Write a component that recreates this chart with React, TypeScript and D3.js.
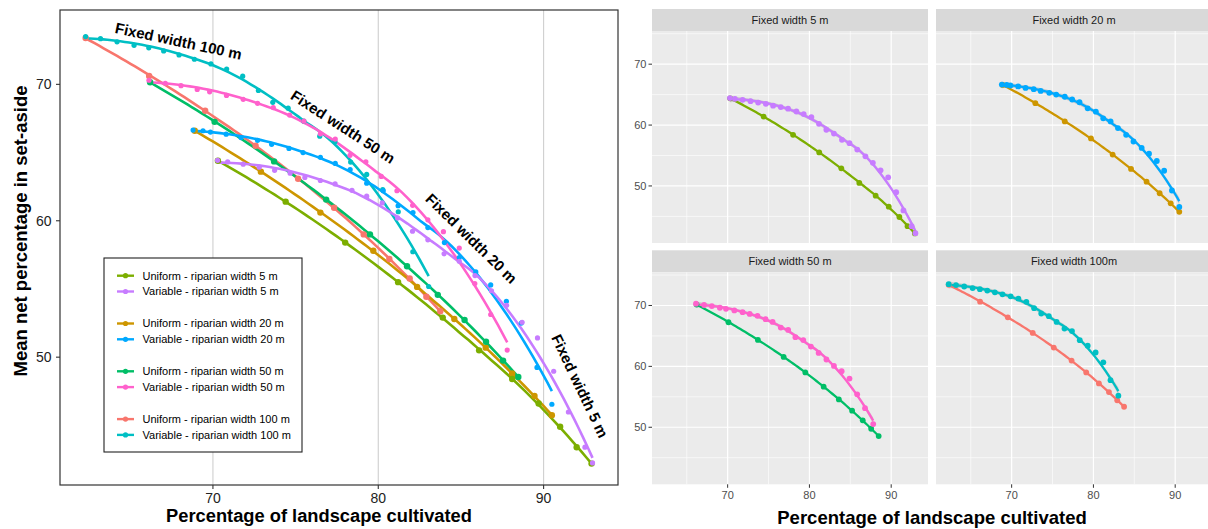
import React from 'react';
import * as d3 from 'd3';

// ---------- data ----------
const uniform5X = [70.3, 74.4, 78.0, 81.2, 83.9, 86.1, 88.1, 89.7, 91.0, 92.0, 92.9];
const uniform5Y = [64.4, 61.4, 58.4, 55.5, 52.9, 50.5, 48.4, 46.6, 44.9, 43.4, 42.2];

const variable5X = [70.28, 70.89, 71.83, 72.8, 73.73, 74.67, 75.56, 76.5, 77.39, 78.41, 79.3, 80.24, 81.17, 82.07, 83.0, 83.98, 84.9, 85.85, 86.85, 87.76, 88.7, 89.63, 90.61, 91.5, 92.5, 92.96];
const variable5Y = [64.43, 64.31, 64.15, 63.93, 63.7, 63.49, 63.18, 62.95, 62.7, 62.23, 61.8, 61.31, 60.21, 59.23, 58.6, 57.58, 57.03, 55.98, 54.87, 53.8, 52.56, 51.41, 48.97, 45.98, 43.4, 42.25];

const uniform20X = [68.9, 72.9, 76.5, 79.7, 82.35, 84.6, 86.5, 88.1, 89.45, 90.5];
const uniform20Y = [66.6, 63.6, 60.6, 57.8, 55.15, 52.8, 50.7, 48.8, 47.15, 45.75];

const variable20X = [68.8, 69.4, 69.85, 70.8, 71.7, 72.7, 73.55, 74.6, 75.45, 76.5, 77.4, 78.3, 79.3, 80.3, 81.2, 82.1, 83.0, 84.0, 84.9, 85.9, 86.8, 87.75, 88.65, 89.6, 90.5];
const variable20Y = [66.65, 66.6, 66.5, 66.35, 66.1, 65.9, 65.6, 65.3, 65.0, 64.65, 64.2, 63.75, 62.75, 62.2, 61.1, 60.6, 59.5, 58.4, 57.3, 56.25, 55.3, 54.1, 52.5, 49.25, 46.55];

const uniform50X = [66.2, 70.1, 73.7, 76.85, 79.5, 81.74, 83.6, 85.22, 86.52, 87.55, 88.47];
const uniform50Y = [70.15, 67.25, 64.35, 61.55, 59.0, 56.67, 54.57, 52.72, 51.13, 49.75, 48.55];

const variable50X = [66.13, 67.12, 68.07, 69.05, 69.8, 70.82, 71.83, 72.7, 73.65, 74.64, 75.5, 76.5, 77.4, 78.29, 79.25, 80.18, 81.13, 82.08, 83.0, 83.94, 84.9, 85.84, 86.8, 87.8];
const variable50Y = [70.3, 70.08, 69.9, 69.63, 69.45, 69.19, 68.9, 68.61, 68.3, 67.75, 67.3, 66.37, 65.99, 64.8, 64.32, 63.25, 62.2, 61.13, 60.07, 59.2, 58.0, 55.4, 53.13, 50.52];

const uniform100X = [62.3, 66.14, 69.53, 72.58, 75.15, 77.33, 79.12, 80.67, 81.9, 82.91, 83.75];
const uniform100Y = [73.4, 70.62, 68.06, 65.5, 63.08, 60.95, 59.0, 57.2, 55.77, 54.43, 53.37];

const variable100X = [62.3, 63.2, 64.2, 65.23, 66.12, 67.02, 67.95, 68.88, 69.88, 70.83, 71.8, 72.75, 73.62, 74.55, 75.5, 76.46, 77.38, 78.33, 79.3, 80.27, 81.21, 82.09, 83.05];
const variable100Y = [73.5, 73.35, 73.12, 72.86, 72.68, 72.45, 72.16, 71.84, 71.5, 71.12, 70.6, 69.55, 68.68, 68.25, 67.3, 66.2, 65.8, 64.3, 63.4, 62.28, 60.66, 57.73, 55.18];

const xTicks = [70, 80, 90];
const yTicks = [50, 60, 70];
const xMinor = [65, 75, 85];
const yMinor = [45, 55, 65, 75];

const facetTitles = ['Fixed width 5 m', 'Fixed width 20 m', 'Fixed width 50 m', 'Fixed width 100m'];
const annotations = ['Fixed width 100 m', 'Fixed width 50 m', 'Fixed width 20 m', 'Fixed width 5 m'];

// series in factor order (drawing order)
const series = [
  { key: 'U100', label: 'Uniform - riparian width 100 m', color: '#F8766D', xs: uniform100X, ys: uniform100Y, uniform: true },
  { key: 'U20', label: 'Uniform - riparian width 20 m', color: '#CD9600', xs: uniform20X, ys: uniform20Y, uniform: true },
  { key: 'U5', label: 'Uniform - riparian width 5 m', color: '#7CAE00', xs: uniform5X, ys: uniform5Y, uniform: true },
  { key: 'U50', label: 'Uniform - riparian width 50 m', color: '#00BE67', xs: uniform50X, ys: uniform50Y, uniform: true },
  { key: 'V100', label: 'Variable - riparian width 100 m', color: '#00BFC4', xs: variable100X, ys: variable100Y, uniform: false },
  { key: 'V20', label: 'Variable - riparian width 20 m', color: '#00A9FF', xs: variable20X, ys: variable20Y, uniform: false },
  { key: 'V5', label: 'Variable - riparian width 5 m', color: '#C77CFF', xs: variable5X, ys: variable5Y, uniform: false },
  { key: 'V50', label: 'Variable - riparian width 50 m', color: '#FF61CC', xs: variable50X, ys: variable50Y, uniform: false },
];
const legendOrder = [['U5', 'V5'], ['U20', 'V20'], ['U50', 'V50'], ['U100', 'V100']];
const facetSeries = [['U5', 'V5'], ['U20', 'V20'], ['U50', 'V50'], ['U100', 'V100']];

// ---------- loess ----------
function solve3(M: number[][], b: number[]): number[] {
  const A = M.map((r, i) => [...r, b[i]]);
  for (let c = 0; c < 3; c++) {
    let p = c;
    for (let r = c + 1; r < 3; r++) if (Math.abs(A[r][c]) > Math.abs(A[p][c])) p = r;
    const tmp = A[c]; A[c] = A[p]; A[p] = tmp;
    for (let r = 0; r < 3; r++) {
      if (r === c) continue;
      const f = A[r][c] / A[c][c];
      for (let k = c; k < 4; k++) A[r][k] -= f * A[c][k];
    }
  }
  return [A[0][3] / A[0][0], A[1][3] / A[1][1], A[2][3] / A[2][2]];
}

function loessRow(xs: number[], x0: number, span = 0.75): number[] {
  const n = xs.length;
  const q = Math.floor(n * span);
  const d = xs.map((x) => Math.abs(x - x0)).sort((a, b) => a - b);
  const h = Math.max(d[q - 1], 1e-9) * 1.001;
  const w = xs.map((x) => {
    const r = Math.abs(x - x0) / h;
    return r < 1 ? Math.pow(1 - r * r * r, 3) : 0;
  });
  let s0 = 0, s1 = 0, s2 = 0, s3 = 0, s4 = 0;
  xs.forEach((x, j) => {
    const u = x - x0;
    s0 += w[j]; s1 += w[j] * u; s2 += w[j] * u * u; s3 += w[j] * u * u * u; s4 += w[j] * u * u * u * u;
  });
  const a = solve3([[s0, s1, s2], [s1, s2, s3], [s2, s3, s4]], [1, 0, 0]);
  return xs.map((x, j) => {
    const u = x - x0;
    return w[j] * (a[0] + a[1] * u + a[2] * u * u);
  });
}

function fitLoess(xs: number[], ys: number[]) {
  const n = xs.length;
  const L = xs.map((x0) => loessRow(xs, x0));
  const yhat = L.map((r) => r.reduce((s, l, j) => s + l * ys[j], 0));
  const IL = L.map((r, i) => r.map((l, j) => (i === j ? 1 : 0) - l));
  const A: number[][] = [];
  for (let i = 0; i < n; i++) {
    A.push([]);
    for (let j = 0; j < n; j++) {
      let s = 0;
      for (let k = 0; k < n; k++) s += IL[k][i] * IL[k][j];
      A[i].push(s);
    }
  }
  let delta1 = 0, delta2 = 0;
  for (let i = 0; i < n; i++) {
    delta1 += A[i][i];
    for (let j = 0; j < n; j++) delta2 += A[i][j] * A[j][i];
  }
  const rss = ys.reduce((s, y, i) => s + (y - yhat[i]) ** 2, 0);
  const sigma = Math.sqrt(rss / delta1);
  const df = (delta1 * delta1) / delta2;
  const t = 1.96 + 2.4 / df + 2.5 / (df * df);
  const [xmin, xmax] = d3.extent(xs) as [number, number];
  const grid = d3.range(80).map((i) => xmin + ((xmax - xmin) * i) / 79);
  return grid.map((x0) => {
    const r = loessRow(xs, x0);
    const y = r.reduce((s, l, j) => s + l * ys[j], 0);
    const se = sigma * Math.sqrt(r.reduce((s, l) => s + l * l, 0));
    return { x: x0, y, lo: y - t * se, hi: y + t * se };
  });
}

const fits: Record<string, ReturnType<typeof fitLoess>> = {};
series.forEach((s) => { fits[s.key] = fitLoess(s.xs, s.ys); });
const byKey: Record<string, typeof series[0]> = {};
series.forEach((s) => { byKey[s.key] = s; });

const FONT = "'Liberation Sans', Arial, Helvetica, sans-serif";
const X_DOMAIN = [60.75, 94.5];
const Y_DOMAIN = [40.63, 75.45];

function LeftPlot() {
  const x = d3.scaleLinear().domain(X_DOMAIN).range([60, 618]);
  const y = d3.scaleLinear().domain(Y_DOMAIN).range([485, 10]);
  const line = d3.line<{ x: number; y: number }>().x((d) => x(d.x)).y((d) => y(d.y)).curve(d3.curveLinear);
  const annPos = [
    { cx: 178.5, cy: 41, rot: 12 },
    { cx: 343, cy: 126.7, rot: 33 },
    { cx: 471.5, cy: 238.5, rot: 44.5 },
    { cx: 580, cy: 386, rot: 64.5 },
  ];
  return (
    <g>
      <rect x={60} y={10} width={558} height={475} fill="#fff" />
      {xTicks.map((t) => (
        <line key={t} x1={x(t)} x2={x(t)} y1={10} y2={485} stroke="#CFCFCF" strokeWidth={1.1} />
      ))}
      {series.map((s) => (
        <path key={s.key} d={line(fits[s.key]) || ''} fill="none" stroke={s.color} strokeWidth={2.6} />
      ))}
      {series.map((s) =>
        s.xs.map((v, i) => (
          <circle key={s.key + i} cx={x(v)} cy={y(s.ys[i])} r={s.uniform ? 3.2 : 2.6} fill={s.color} />
        ))
      )}
      {annotations.map((a, i) => (
        <g key={a} transform={`translate(${annPos[i].cx},${annPos[i].cy}) rotate(${annPos[i].rot})`}>
          <text x={0} y={0} dy="0.36em" textAnchor="middle" fontFamily={FONT} fontWeight="bold" fontSize={15} fill="#000">
            {a}
          </text>
        </g>
      ))}
      {/* legend */}
      <rect x={104} y={258} width={198} height={194} fill="#fff" stroke="#222" strokeWidth={1.1} />
      {legendOrder.map((grp, g) =>
        grp.map((k, j) => {
          const s = byKey[k];
          const ly = 275.7 + g * 47.8 + j * 15.8;
          return (
            <g key={k}>
              <line x1={117} x2={134} y1={ly} y2={ly} stroke={s.color} strokeWidth={2.4} />
              <circle cx={125.5} cy={ly} r={2.6} fill={s.color} />
              <text x={142.5} y={ly} dy="0.35em" fontFamily={FONT} fontSize={11} fill="#000">
                {s.label}
              </text>
            </g>
          );
        })
      )}
      <rect x={60} y={10} width={558} height={475} fill="none" stroke="#333" strokeWidth={1.2} />
      {xTicks.map((t) => (
        <g key={t}>
          <line x1={x(t)} x2={x(t)} y1={485} y2={489} stroke="#333" strokeWidth={1.1} />
          <text x={x(t)} y={502.5} textAnchor="middle" fontFamily={FONT} fontSize={14} fill="#222">{t}</text>
        </g>
      ))}
      {yTicks.map((t) => (
        <g key={t}>
          <line x1={56} x2={60} y1={y(t)} y2={y(t)} stroke="#333" strokeWidth={1.1} />
          <text x={51.5} y={y(t)} dy="0.36em" textAnchor="end" fontFamily={FONT} fontSize={14} fill="#222">{t}</text>
        </g>
      ))}
      <text x={319} y={522} textAnchor="middle" fontFamily={FONT} fontWeight="bold" fontSize={18.3} fill="#000">
        Percentage of landscape cultivated
      </text>
      <text transform="translate(27,231) rotate(-90)" textAnchor="middle" fontFamily={FONT} fontWeight="bold" fontSize={18.5} fill="#000">
        Mean net percentage in set-aside
      </text>
    </g>
  );
}

function Facet({ x0, y0, idx, showX, showY }: { x0: number; y0: number; idx: number; showX: boolean; showY: boolean }) {
  const W = 276, H = 212, SH = 22;
  const x = d3.scaleLinear().domain(X_DOMAIN).range([x0, x0 + W]);
  const y = d3.scaleLinear().domain(Y_DOMAIN).range([y0 + H, y0]);
  const line = d3.line<{ x: number; y: number }>().x((d) => x(d.x)).y((d) => y(d.y));
  const area = d3.area<{ x: number; lo: number; hi: number }>().x((d) => x(d.x)).y0((d) => y(d.lo)).y1((d) => y(d.hi));
  const keys = facetSeries[idx].slice().sort((a, b) => series.findIndex((s) => s.key === a) - series.findIndex((s) => s.key === b));
  return (
    <g>
      <rect x={x0} y={y0 - SH} width={W} height={SH} fill="#D9D9D9" />
      <text x={x0 + W / 2} y={y0 - SH / 2} dy="0.35em" textAnchor="middle" fontFamily={FONT} fontSize={11} fill="#1A1A1A">
        {facetTitles[idx]}
      </text>
      <rect x={x0} y={y0} width={W} height={H} fill="#EBEBEB" />
      {xMinor.map((t) => (
        <line key={'xm' + t} x1={x(t)} x2={x(t)} y1={y0} y2={y0 + H} stroke="#fff" strokeWidth={0.6} />
      ))}
      {yMinor.map((t) => (
        <line key={'ym' + t} x1={x0} x2={x0 + W} y1={y(t)} y2={y(t)} stroke="#fff" strokeWidth={0.6} />
      ))}
      {xTicks.map((t) => (
        <line key={'x' + t} x1={x(t)} x2={x(t)} y1={y0} y2={y0 + H} stroke="#fff" strokeWidth={1.2} />
      ))}
      {yTicks.map((t) => (
        <line key={'y' + t} x1={x0} x2={x0 + W} y1={y(t)} y2={y(t)} stroke="#fff" strokeWidth={1.2} />
      ))}
      {keys.map((k) => (
        <path key={'b' + k} d={area(fits[k]) || ''} fill="#999999" fillOpacity={0.4} />
      ))}
      {keys.map((k) => (
        <path key={'l' + k} d={line(fits[k]) || ''} fill="none" stroke={byKey[k].color} strokeWidth={2.3} />
      ))}
      {keys.map((k) =>
        byKey[k].xs.map((v, i) => (
          <circle key={k + i} cx={x(v)} cy={y(byKey[k].ys[i])} r={2.9} fill={byKey[k].color} />
        ))
      )}
      {showX &&
        xTicks.map((t) => (
          <g key={'xt' + t}>
            <line x1={x(t)} x2={x(t)} y1={y0 + H} y2={y0 + H + 3.5} stroke="#333" strokeWidth={1} />
            <text x={x(t)} y={y0 + H + 15} textAnchor="middle" fontFamily={FONT} fontSize={11} fill="#4D4D4D">{t}</text>
          </g>
        ))}
      {showY &&
        yTicks.map((t) => (
          <g key={'yt' + t}>
            <line x1={x0 - 3.5} x2={x0} y1={y(t)} y2={y(t)} stroke="#333" strokeWidth={1} />
            <text x={x0 - 5.5} y={y(t)} dy="0.36em" textAnchor="end" fontFamily={FONT} fontSize={11} fill="#4D4D4D">{t}</text>
          </g>
        ))}
    </g>
  );
}

export default function App() {
  return (
    <div style={{ position: 'absolute', left: 0, top: 0 }}>
      <svg width={1208} height={529} viewBox="0 0 1208 529" style={{ display: 'block', background: '#fff' }}>
        <rect x={0} y={0} width={1208} height={529} fill="#fff" />
        <LeftPlot />
        <Facet x0={652} y0={31} idx={0} showX={false} showY={true} />
        <Facet x0={936} y0={31} idx={1} showX={false} showY={false} />
        <Facet x0={652} y0={272.3} idx={2} showX={true} showY={true} />
        <Facet x0={936} y0={272.3} idx={3} showX={true} showY={false} />
        <text x={932} y={524} textAnchor="middle" fontFamily={FONT} fontWeight="bold" fontSize={18.5} fill="#000">
          Percentage of landscape cultivated
        </text>
      </svg>
    </div>
  );
}
